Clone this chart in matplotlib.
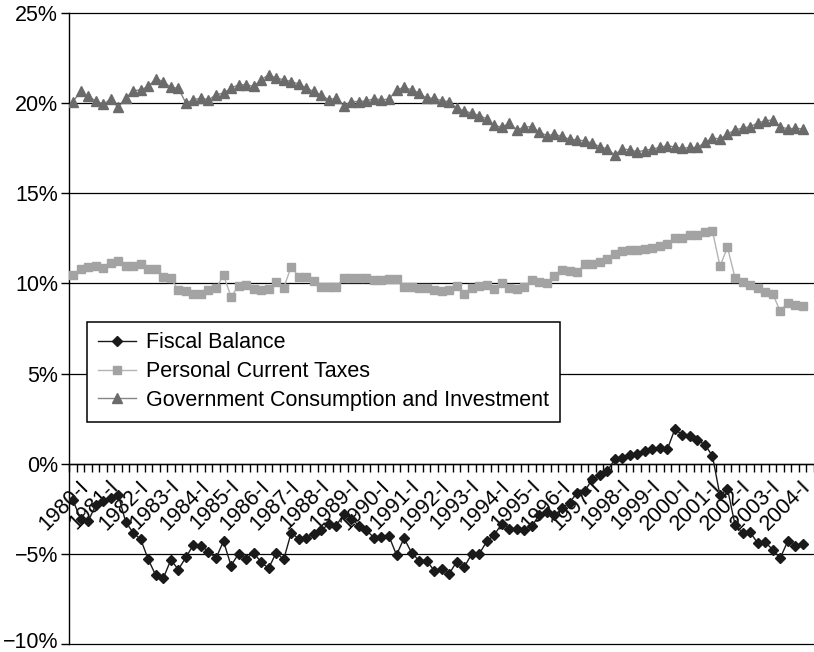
import matplotlib
matplotlib.use("Agg")
import matplotlib.pyplot as plt
import matplotlib.transforms as mtransforms
import numpy as np

plt.rcParams['font.family'] = ['Liberation Sans', 'DejaVu Sans']

# quarterly series, 1980-I .. 2004-II, percent of GDP
years = list(range(1980, 2005))
quarters = [f"{y}-{q}" for y in years for q in ["I", "II", "III", "IV"]][:98]

fiscal = [-2.04, -3.06, -3.2, -2.31, -2.09, -1.91, -1.72, -3.24, -3.83, -4.2,
          -5.31, -6.2, -6.35, -5.33, -5.87, -5.19, -4.5, -4.54, -4.87, -5.24,
          -4.30, -5.65, -5.0, -5.28, -4.94, -5.46, -5.80, -4.94, -5.31, -3.83,
          -4.17, -4.1, -3.89, -3.7, -3.33, -3.43, -2.78, -3.06, -3.43, -3.7,
          -4.1, -4.06, -4.02, -5.06, -4.13, -4.94, -5.37, -5.37, -5.93,
          -5.83, -6.11, -5.43, -5.74, -5.0, -5.0, -4.31, -3.94, -3.33, -3.61,
          -3.61, -3.65, -3.46, -2.83, -2.69, -2.87, -2.46, -2.17, -1.61, -1.54,
          -0.87, -0.65, -0.43, 0.24, 0.31, 0.46, 0.56, 0.69, 0.83, 0.87,
          0.80, 1.91, 1.61, 1.54, 1.30, 1.06, 0.43, -1.76, -1.39, -3.39,
          -3.83, -3.80, -4.39, -4.35, -4.76, -5.24, -4.31, -4.54, -4.44]

taxes = [10.46, 10.8, 10.93, 10.98, 10.83, 11.15, 11.26, 10.98, 10.98, 11.06,
         10.8, 10.8, 10.37, 10.28, 9.63, 9.57, 9.44, 9.44, 9.63, 9.72,
         10.46, 9.26, 9.87, 9.91, 9.69, 9.63, 9.69, 10.06, 9.76, 10.93,
         10.37, 10.37, 10.13, 9.81, 9.81, 9.81, 10.31, 10.31, 10.28, 10.31,
         10.19, 10.19, 10.24, 10.24, 9.81, 9.81, 9.76, 9.72, 9.63,
         9.57, 9.63, 9.87, 9.44, 9.72, 9.87, 9.94, 9.69, 10.0, 9.76,
         9.69, 9.81, 10.19, 10.09, 10.0, 10.43, 10.74, 10.69, 10.65, 11.06,
         11.06, 11.2, 11.35, 11.61, 11.8, 11.85, 11.85, 11.91, 11.98, 12.09,
         12.17, 12.54, 12.54, 12.69, 12.69, 12.87, 12.91, 10.96, 12.0, 10.31,
         10.06, 9.91, 9.76, 9.54, 9.44, 8.46, 8.94, 8.79, 8.75]

gov = [20.09, 20.65, 20.37, 20.13, 19.94, 20.22, 19.76, 20.28, 20.69, 20.74,
       20.93, 21.35, 21.2, 20.87, 20.83, 20.0, 20.19, 20.28, 20.19, 20.46,
       20.56, 20.83, 21.02, 21.02, 20.93, 21.3, 21.57, 21.39, 21.3, 21.2,
       21.06, 20.83, 20.65, 20.43, 20.19, 20.28, 19.85, 20.09, 20.09, 20.13,
       20.24, 20.19, 20.22, 20.74, 20.87, 20.74, 20.56, 20.28, 20.28,
       20.13, 20.09, 19.72, 19.57, 19.44, 19.31, 19.13, 18.76, 18.67, 18.89,
       18.52, 18.67, 18.70, 18.39, 18.20, 18.28, 18.15, 18.0, 17.96, 17.91,
       17.78, 17.59, 17.46, 17.13, 17.46, 17.41, 17.31, 17.37, 17.46, 17.54,
       17.65, 17.56, 17.5, 17.54, 17.54, 17.83, 18.06, 18.02, 18.28, 18.52,
       18.61, 18.70, 18.89, 19.02, 19.07, 18.70, 18.57, 18.61, 18.57]

series_labels = ["Fiscal Balance", "Personal Current Taxes",
                 "Government Consumption and Investment"]

x = np.arange(len(quarters))

fig = plt.figure(figsize=(8.14, 6.52), dpi=100)
ax = fig.add_axes([69.3 / 814, 8 / 652, (814 - 69.3) / 814, 631 / 652])

ax.plot(x, fiscal, color='#1a1a1a', lw=1.0, marker='D', ms=5.2, mfc='#1a1a1a',
        mec='#1a1a1a', label=series_labels[0], zorder=4)
ax.plot(x, taxes, color='#b4b4b4', lw=1.0, marker='s', ms=6.4, mfc='#a3a3a3',
        mec='#a3a3a3', label=series_labels[1], zorder=3)
ax.plot(x, gov, color='#858585', lw=1.0, marker='^', ms=7.2, mfc='#6b6b6b',
        mec='#6b6b6b', label=series_labels[2], zorder=3)

ax.set_xlim(-0.5, 97.1)
ax.set_ylim(-10, 25)

yt = np.arange(-10, 26, 5)
ax.set_yticks(yt)
ax.set_yticklabels([f"{v}%".replace("-", "\u2212") for v in yt], fontsize=15.5)
ax.yaxis.grid(True, color='black', lw=0.9)
for gl in ax.get_ygridlines():
    gl.set_clip_on(False)
ax.tick_params(axis='y', length=6, width=1, pad=2, direction='out')
# lift the bottom label a little so it stays inside the picture
low = ax.get_yticklabels()[0]
low.set_transform(low.get_transform() +
                  mtransforms.ScaledTranslation(0, 3 / 72, fig.dpi_scale_trans))

# x axis sits on the zero line, ticks between quarters
ax.spines['bottom'].set_position(('data', 0))
for s in ['top', 'right']:
    ax.spines[s].set_visible(False)
ax.spines['left'].set_linewidth(1)
ax.spines['bottom'].set_linewidth(1)
ax.set_xticks(np.arange(-0.5, len(quarters) + 1, 1), minor=True)
ax.tick_params(axis='x', which='minor', length=6, width=1, direction='out')
major = np.arange(0, len(quarters), 4)
ax.set_xticks(major + 0.7)
ax.set_xticklabels([quarters[i] for i in major], rotation=45, ha='right',
                   va='top', rotation_mode='anchor', fontsize=15.5)
ax.tick_params(axis='x', which='major', length=0, pad=9)

leg = ax.legend(loc='upper left', bbox_to_anchor=(0.024, 0.511), fontsize=15.5,
                frameon=True, fancybox=False, framealpha=1, edgecolor='black',
                borderaxespad=0, borderpad=0.5, labelspacing=0.36,
                handlelength=1.75, handletextpad=0.5, numpoints=1)
leg.get_frame().set_linewidth(1.1)
leg.set_zorder(6)

plt.savefig("out.png", dpi=100)
plt.close()
